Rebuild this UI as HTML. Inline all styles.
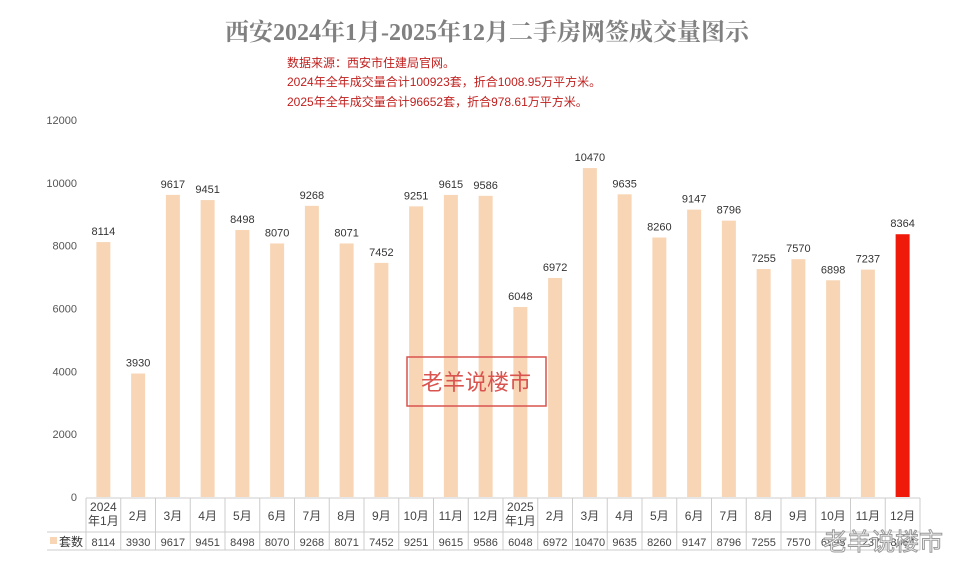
<!DOCTYPE html>
<html><head><meta charset="utf-8"><style>
body{margin:0;background:#fff;}
svg text{font-family:"Liberation Sans","Noto Sans CJK SC",sans-serif;}
svg text.serif{font-family:"Liberation Serif","Noto Serif CJK SC",serif;}
</style></head><body>
<svg id="c" width="963" height="569">
<text class="serif" x="487" y="40" text-anchor="middle" font-size="24" font-weight="bold" fill="#808080">西安2024年1月-2025年12月二手房网签成交量图示</text>
<g fill="#c0201e" font-size="12">
<text x="287" y="67">数据来源：西安市住建局官网。</text>
<text x="287" y="86">2024年全年成交量合计100923套，折合1008.95万平方米。</text>
<text x="287" y="106">2025年全年成交量合计96652套，折合978.61万平方米。</text>
</g>
<g id="yaxis"></g>
<g id="bars"></g>
<g id="table"></g>
<rect x="407" y="357" width="139" height="49" fill="none" stroke="#d9534f" stroke-width="1.5"/>
<text x="476" y="390" text-anchor="middle" font-size="22" fill="#d9534f">老羊说楼市</text>
<text x="883" y="550" text-anchor="middle" font-size="24" fill="#fff" stroke="#999" stroke-width="1">老羊说楼市</text>
</svg>
<script>
const categories=["2024\n年1月","2月","3月","4月","5月","6月","7月","8月","9月","10月","11月","12月","2025\n年1月","2月","3月","4月","5月","6月","7月","8月","9月","10月","11月","12月"];
const values=[8114,3930,9617,9451,8498,8070,9268,8071,7452,9251,9615,9586,6048,6972,10470,9635,8260,9147,8796,7255,7570,6898,7237,8364];
const yTicks=[0,2000,4000,6000,8000,10000,12000];
const NS="http://www.w3.org/2000/svg";
const x0=86,cw=(920-86)/24,yb=497,yt=120,ymax=12000;
const y=v=>yb-(v/ymax)*(yb-yt);
const xc=i=>x0+cw*(i+0.5);
function mk(t,a,p){const e=document.createElementNS(NS,t);for(const k in a)e.setAttribute(k,a[k]);p.appendChild(e);return e;}
const ya=document.getElementById('yaxis'),bg=document.getElementById('bars'),tb=document.getElementById('table');
yTicks.forEach(v=>{const t=mk('text',{x:77,y:y(v)+4,'text-anchor':'end','font-size':11,fill:'#555'},ya);t.textContent=v;

});
values.forEach((v,i)=>{
const last=i===values.length-1;
const r=mk('rect',{x:xc(i)-7,y:y(v),width:14,height:yb-y(v),fill:last?'#f01a0a':'#f8d5b5'},bg);


const t=mk('text',{x:xc(i),y:y(v)-7,'text-anchor':'middle','font-size':11,fill:'#333'},bg);t.textContent=v;


});
mk('line',{x1:x0,y1:yb+1,x2:920,y2:yb+1,stroke:'#ccc'},tb);
mk('line',{x1:47,y1:532,x2:920,y2:532,stroke:'#ccc'},tb);
mk('line',{x1:47,y1:550,x2:920,y2:550,stroke:'#ccc'},tb);
for(let i=0;i<=24;i++)mk('line',{x1:x0+cw*i,y1:yb+1,x2:x0+cw*i,y2:550,stroke:'#ccc'},tb);
mk('rect',{x:50,y:537,width:7,height:7,fill:'#f8d5b5'},tb);
const lg=mk('text',{x:59,y:546,'font-size':12,fill:'#333'},tb);lg.textContent='套数';


categories.forEach((c,i)=>{
const parts=c.split('\n');
parts.forEach((p,j)=>{const t=mk('text',{x:xc(i),y:parts.length>1?511+j*14:520,'text-anchor':'middle','font-size':12,fill:'#444'},tb);t.textContent=p;

});
const d=mk('text',{x:xc(i),y:546,'text-anchor':'middle','font-size':11,fill:'#444'},tb);d.textContent=values[i];


});
</script>
</body></html>
